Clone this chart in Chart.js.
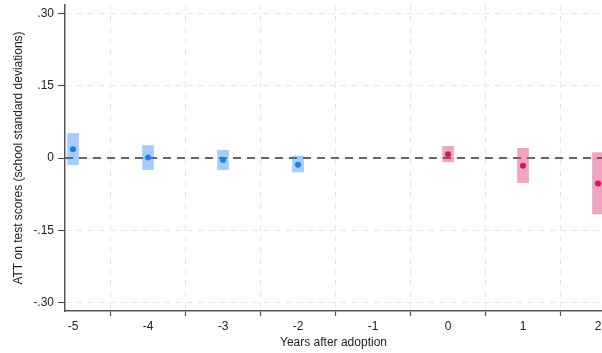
<!DOCTYPE html>
<html>
<head>
<meta charset="utf-8">
<script src="https://cdn.jsdelivr.net/npm/chart.js@4"></script>
<style>
  body { margin: 0; background: #fff; }
  #wrap { width: 602px; height: 353px; position: relative; }
</style>
</head>
<body>
<div id="wrap"><canvas id="eventChart"></canvas></div>
<script>
// event-study estimates
const preYears = [-5, -4, -3, -2];
const preEst = [0.018, 0.001, -0.004, -0.014];
const preLo = [-0.014, -0.024, -0.024, -0.029];
const preHi = [0.051, 0.026, 0.016, 0.004];

const postYears = [0, 1, 2];
const postEst = [0.008, -0.016, -0.053];
const postLo = [-0.008, -0.051, -0.116];
const postHi = [0.024, 0.020, 0.011];

const xTicks = [-5, -4, -3, -2, -1, 0, 1, 2];
const yTicks = [-0.30, -0.15, 0, 0.15, 0.30];

const X_MIN = -5.107, X_MAX = 2.053;
const FONT = "'Liberation Sans', Arial, Helvetica, sans-serif";

function ciData(xs, lo, hi) {
    return xs.map((x, i) => ({ x: x, y: [lo[i], hi[i]] }));
}

function ptData(xs, ys) {
    return xs.map((x, i) => ({ x: x, y: ys[i] }));
}

function yLabel(v) {
    if (Math.abs(v) < 1e-9) return "0";
    return (v < 0 ? "-" : "") + Math.abs(v).toFixed(2).replace(/^0/, "");
}

Chart.defaults.font.family = FONT;
Chart.defaults.color = "#222";

new Chart(document.getElementById("eventChart"), {
    data: {
        datasets: [
            {
                type: "line",
                data: [{ x: X_MIN, y: 0 }, { x: X_MAX, y: 0 }],
                borderColor: "#666",
                borderWidth: 2,
                borderDash: [8, 6],
                pointRadius: 0,
                order: 3
            },
            {
                type: "bar",
                data: ciData(preYears, preLo, preHi),
                backgroundColor: "rgba(30,130,245,0.4)",
                borderWidth: 0,
                barThickness: 11,
                grouped: false,
                order: 2
            },
            {
                type: "bar",
                data: ciData(postYears, postLo, postHi),
                backgroundColor: "rgba(215,40,110,0.42)",
                borderWidth: 0,
                barThickness: 11,
                grouped: false,
                order: 2
            },
            {
                type: "scatter",
                data: ptData(preYears, preEst),
                backgroundColor: "#1a7ff0",
                borderWidth: 0,
                pointRadius: 3,
                order: 1
            },
            {
                type: "scatter",
                data: ptData(postYears, postEst),
                backgroundColor: "#d6155c",
                borderWidth: 0,
                pointRadius: 3,
                order: 1
            }
        ]
    },
    options: {
        responsive: true,
        maintainAspectRatio: false,
        animation: false,
        layout: { autoPadding: false, padding: { top: 5, right: 0, left: 0, bottom: 0 } },
        plugins: {
            legend: { display: false },
            tooltip: { enabled: false }
        },
        scales: {
            x: {
                type: "linear",
                min: X_MIN,
                max: X_MAX,
                offset: false,
                afterBuildTicks: s => { s.ticks = xTicks.map(v => ({ value: v })); },
                afterFit: s => {
                    s.height = 42;
                    s.paddingLeft = 0;
                    s.paddingRight = 0;
                },
                ticks: { font: { size: 12 }, padding: 3, color: "#222", callback: v => String(v) },
                grid: {
                    color: "#e6e6e6",
                    lineWidth: 1,
                    tickLength: 5,
                    tickColor: "#555",
                    tickWidth: 1.2
                },
                border: { color: "#555", width: 1.5, dash: [6, 5] },
                title: {
                    display: true,
                    text: "Years after adoption",
                    font: { size: 12 },
                    color: "#222",
                    padding: { top: 0, bottom: 3 }
                }
            },
            y: {
                type: "linear",
                min: -0.317,
                max: 0.317,
                afterBuildTicks: s => { s.ticks = yTicks.map(v => ({ value: v })); },
                afterFit: s => {
                    s.width = 65;
                    s.paddingTop = 0;
                    s.paddingBottom = 0;
                },
                ticks: { font: { size: 12 }, padding: 4, color: "#222", callback: v => yLabel(v) },
                grid: {
                    color: "#e6e6e6",
                    lineWidth: 1,
                    tickLength: 7,
                    tickColor: "#555",
                    tickWidth: 1.2
                },
                border: { color: "#555", width: 1.5, dash: [6, 5] },
                title: {
                    display: true,
                    text: "ATT on test scores (school standard deviations)",
                    font: { size: 12 },
                    color: "#222",
                    padding: { top: 11, bottom: 0 }
                }
            }
        }
    }
});
</script>
</body>
</html>
